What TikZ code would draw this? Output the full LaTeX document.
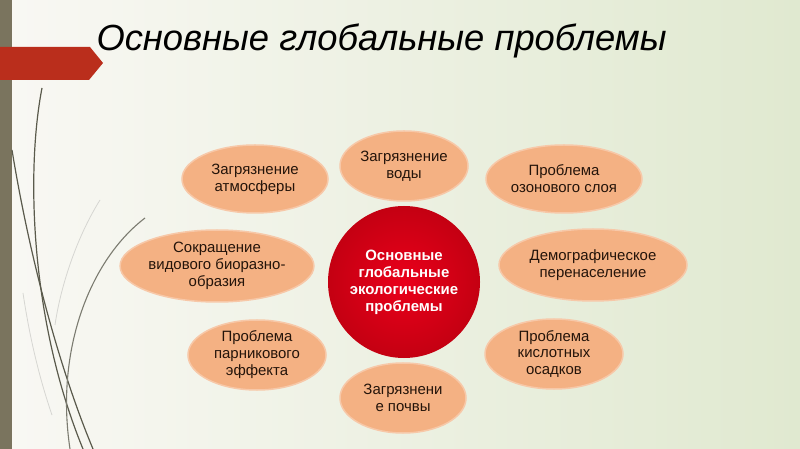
\documentclass[tikz,border=0pt]{standalone}
\usepackage{fontspec}
\setmainfont{Liberation Sans}
\usetikzlibrary{shapes.geometric}
\definecolor{bubble}{RGB}{244,177,131}
\definecolor{bubbletext}{RGB}{36,20,10}
\definecolor{banner}{RGB}{186,46,28}
\definecolor{sidebar}{RGB}{122,116,94}
\definecolor{wisp}{RGB}{90,90,76}
\definecolor{bgleft}{RGB}{249,248,244}
\definecolor{bgright}{RGB}{224,233,208}
\definecolor{redin}{RGB}{234,0,26}
\definecolor{redout}{RGB}{196,0,18}
\begin{document}
\begin{tikzpicture}[x=1bp, y=-1bp,
		problem/.style={ellipse, fill=bubble, draw=bubble!70!white, line width=1.5bp, inner sep=0pt, align=center, text=bubbletext, font=\fontsize{15}{17}\selectfont},
		hub/.style={circle, minimum size=152bp, inner sep=0pt, shading=radial, inner color=redin, outer color=redout, align=center, text=white, font=\bfseries\fontsize{15}{17}\selectfont}]
		\useasboundingbox (0,0) rectangle (800,449);
		\shade[left color=bgleft, right color=bgright] (0,0) rectangle (800,449);

		\fill[sidebar] (0,0) rectangle (12,449);
		\fill[banner] (0,47) -- (90,47) -- (103,63) -- (89,80) -- (0,80) -- cycle;

		\draw[wisp, line width=1.2bp] (42,88) .. controls (26,170) and (30,320) .. (83,449);
		\draw[wisp, line width=1.2bp] (12,150) .. controls (30,260) and (60,370) .. (93,449);
		\draw[wisp!80, line width=1.1bp] (145,218) .. controls (90,260) and (55,350) .. (70,449);
		\draw[wisp!25, line width=0.8bp] (100,200) .. controls (75,240) and (60,290) .. (55,325);
		\draw[wisp!25, line width=0.8bp] (23,293) .. controls (30,340) and (40,380) .. (52,415);

		\node[anchor=base west, font=\itshape\fontsize{36.5}{40}\selectfont] (title) at (93,51) {Основные глобальные проблемы};

		\node[hub] (hub) at (404,282) {Основные\\глобальные\\экологические\\проблемы};

		\node[problem, minimum width=146bp, minimum height=68bp] (atmo) at (255,179) {Загрязнение\\атмосферы};
		\node[problem, minimum width=128bp, minimum height=70bp] (water) at (404,166) {Загрязнение\\воды};
		\node[problem, minimum width=156bp, minimum height=68bp] (ozone) at (564,179) {Проблема\\озонового слоя};
		\node[problem, minimum width=188bp, minimum height=72bp] (demo) at (593,265) {Демографическое\\перенаселение};
		\node[problem, minimum width=138bp, minimum height=70bp] (acid) at (554,354) {Проблема\\кислотных\\осадков};
		\node[problem, minimum width=126bp, minimum height=70bp] (soil) at (403,398) {Загрязнени\\е почвы};
		\node[problem, minimum width=138bp, minimum height=70bp] (green) at (257,355) {Проблема\\парникового\\эффекта};
		\node[problem, minimum width=188bp, minimum height=72bp] (bio) at (217,266) {Сокращение\\видового биоразно-\\образия};
	\end{tikzpicture}
\end{document}
